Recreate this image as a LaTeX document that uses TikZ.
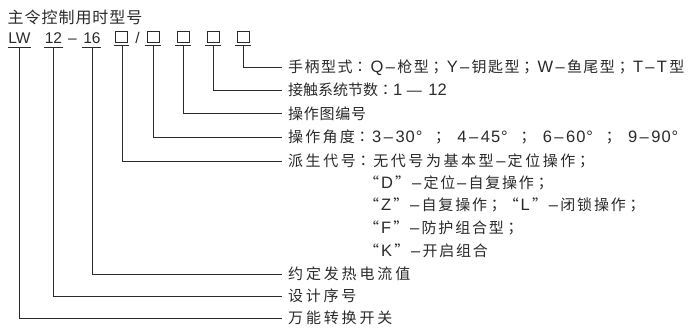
\documentclass[tikz,border=0pt]{standalone}
\usepackage{fontspec}
\setmainfont{Noto Sans CJK SC}
\newfontfamily\tcf{Noto Sans CJK TC}
\newfontfamily\latA{Liberation Sans}[LetterSpace=14]
\newfontfamily\latD{Liberation Sans}[LetterSpace=6]
\newfontfamily\codef{Liberation Sans}
\newdimen\ctrk
\newcommand{\lt}[1]{\kern\ctrk{\latA\fontsize{16.5}{18}\selectfont #1}\kern2.31pt}
\newcommand{\ang}[2]{{\latD\fontsize{16.5}{18}\selectfont #1\kern2.5pt–\kern2.5pt#2°}}
\newcommand{\cn}{{\tcf ：}\kern\ctrk}
\newcommand{\sm}{{\tcf ；}\kern\ctrk}
\newcommand{\sep}{\kern9pt{\tcf ；}\kern11pt}
\newcommand{\cj}[1]{\fontsize{15}{18}\selectfont\addfontfeatures{LetterSpace=#1}\ctrk=0.15pt\multiply\ctrk by #1\relax}
\definecolor{ink}{HTML}{2A2A2A}
\begin{document}
\begin{tikzpicture}[x=1pt,y=-1pt,
  lbl/.style={anchor=west,inner xsep=6pt,inner ysep=0pt,text height=12pt,text depth=0.6pt,font=\cj{#1},text=ink},
  cont/.style={anchor=west,inner xsep=0pt,inner ysep=0pt,text height=12pt,text depth=0.6pt,font=\cj{#1},text=ink},
  code/.style={anchor=base,inner sep=0pt,font=\codef\fontsize{15.5}{18}\selectfont,text=ink},
  conn/.style={draw=ink,line width=0.8pt},
  bx/.style={draw=ink,line width=0.7pt,minimum width=12pt,minimum height=11pt,inner sep=0pt}]
\useasboundingbox (0,0) rectangle (690,335);
% title
\node[anchor=west,inner sep=0pt,font=\fontsize{16}{20}\selectfont\addfontfeatures{LetterSpace=6},text=ink] (title) at (7.5,17) {主令控制用时型号};
% code row
\node[code] (lw) at (19.5,43) {LW};
\node[code] (n12) at (53.5,43) {12};
\node[code] (dash) at (72.5,43) {–};
\node[code] (n16) at (92,43) {16};
\node[code] (sl) at (137.5,43) {/};
\node[bx] (b1) at (121.5,36.5) {};
\node[bx] (b2) at (153,36.5) {};
\node[bx] (b3) at (183,36.5) {};
\node[bx] (b4) at (213,36.5) {};
\node[bx] (b5) at (243,36.5) {};
\foreach \n in {b1,b2,b3,b4,b5}{
  \draw[ink,line width=0.7pt] ([xshift=-1.5pt,yshift=-2.5pt]\n.south west) -- ([xshift=1.5pt,yshift=-2.5pt]\n.south east);
}
\draw[ink,line width=0.7pt] (8,47) -- (31,47);
\draw[ink,line width=0.7pt] (43.5,47) -- (62.5,47);
\draw[ink,line width=0.7pt] (82,47) -- (101,47);
\coordinate (s5) at (243,45);
\coordinate (s4) at (213,45);
\coordinate (s3) at (183,45);
\coordinate (s2) at (153,45);
\coordinate (s1) at (122,45);
\coordinate (s16) at (92.5,47.5);
\coordinate (s12) at (53.5,47.5);
\coordinate (slw) at (19,47.5);
% labels
\node[lbl=10] (l1) at (282,67) {手柄型式\cn\lt{Q–}枪型\sm\lt{Y–}钥匙型\sm\lt{W–}鱼尾型\sm\lt{T–T}型};
\node[lbl=0] (l2) at (282,90) {接触系统节数\cn{\codef\fontsize{16.5}{18}\selectfont 1\kern4.5pt{\fontsize{15}{18}\selectfont —}\kern6.5pt12}};
\node[lbl=5] (l3) at (282,113.5) {操作图编号};
\node[lbl=15] (l4) at (282,137) {操作角度\cn\ang{3}{30}\sep\ang{4}{45}\sep\ang{6}{60}\sep\ang{9}{90}};
\node[lbl=17] (l5) at (282,161) {派生代号\cn 无代号为基本型\lt{–}定位操作\sm};
\node[cont=12] (c1) at (364,182.5) {“\lt{D}”\lt{–}定位\lt{–}自复操作\sm};
\node[cont=12] (c2) at (364,205) {“\lt{Z}”\lt{–}自复操作\sm “\lt{L}”\lt{–}闭锁操作\sm};
\node[cont=12] (c3) at (364,228) {“\lt{F}”\lt{–}防护组合型\sm};
\node[cont=12] (c4) at (364,250.5) {“\lt{K}”\lt{–}开启组合};
\node[lbl=19] (l6) at (282,274) {约定发热电流值};
\node[lbl=18] (l7) at (282,296) {设计序号};
\node[lbl=19] (l8) at (282,318) {万能转换开关};
% connectors
\draw[conn] (s5) |- (l1.west);
\draw[conn] (s4) |- (l2.west);
\draw[conn] (s3) |- (l3.west);
\draw[conn] (s2) |- (l4.west);
\draw[conn] (s1) |- (l5.west);
\draw[conn] (s16) |- (l6.west);
\draw[conn] (s12) |- (l7.west);
\draw[conn] (slw) |- (l8.west);
\end{tikzpicture}
\end{document}
